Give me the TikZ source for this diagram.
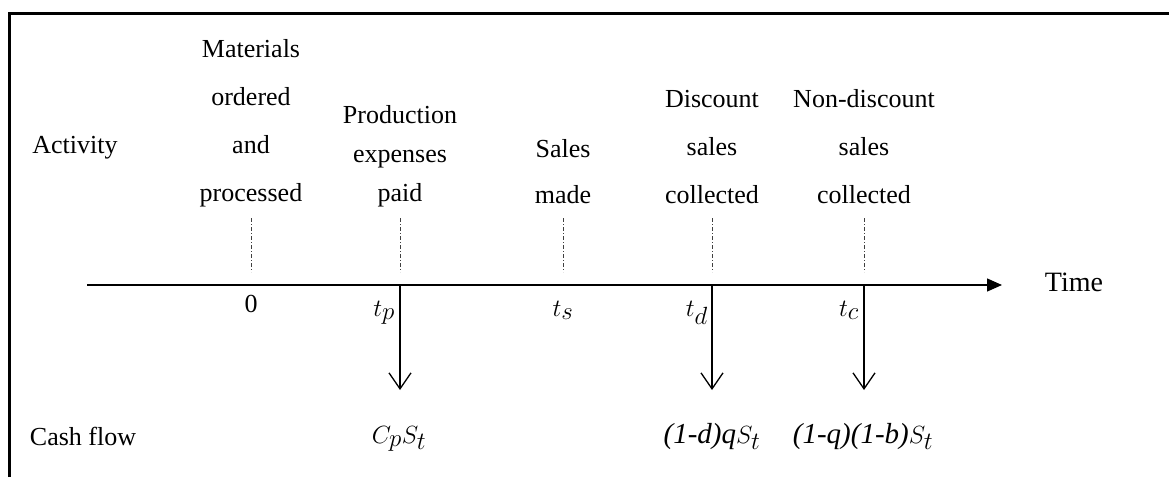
\documentclass[tikz,border=0pt]{standalone}
\usepackage{fontspec}
\setmainfont{Liberation Serif}
\usetikzlibrary{arrows.meta}
% italic text part of the cash flow amounts
\newcommand\cashfont{\fontsize{29}{34}\selectfont\itshape}
\begin{document}
\begin{tikzpicture}[x=1pt,y=-1pt,
  txt/.style={inner sep=0pt, anchor=base, align=center, font=\fontsize{26}{#1}\selectfont},
  txt/.default=30,
  mathlbl/.style={inner sep=0pt, font=\fontsize{34}{38}\selectfont},
  guide/.style={line width=0.8pt, black!75, dash pattern=on 4pt off 2pt on 1pt off 2pt},
  axisline/.style={line width=1.3pt, -{Triangle[length=15pt,width=13pt]}},
  flow/.style={line width=1.3pt, -{Straight Barb[length=16pt,width=22pt,line width=1.3pt]}},
  frame/.style={line width=3pt}]
\useasboundingbox (0,0) rectangle (1169,477);

% open frame: top and left rules only
\draw[frame] (9,477) -- (9,13) -- (1169,13);

% activity row
\node[txt] (act) at (75,153) {Activity};
\node[txt=47.7] (mat) at (251,201) {Materials\\ordered\\and\\processed};
\node[txt=39] (prod) at (400,201) {Production\\expenses\\paid};
\node[txt=46] (sale) at (563,203) {Sales\\made};
\node[txt=48] (disc) at (712,203) {Discount\\sales\\collected};
\node[txt=48] (ndisc) at (864,203) {Non-discount\\sales\\collected};

% time axis
\coordinate (ax0) at (87,285);
\coordinate (ax1) at (1002,285);
\draw[axisline] (ax0) -- (ax1);
\node[inner sep=0pt, anchor=base, font=\fontsize{28}{32}\selectfont] (time) at (1074,291) {Time};

% event points on the axis
\coordinate (p0) at (251,285);
\coordinate (pp) at (400,285);
\coordinate (ps) at (563,285);
\coordinate (pd) at (712,285);
\coordinate (pc) at (864,285);

% dash-dot guides from each activity down towards the axis
\foreach \c in {p0,pp,ps,pd,pc}
  \draw[guide] ([yshift=67pt]\c) -- ([yshift=13pt]\c);

% time labels
\node[txt] (l0) at (251,312) {0};
\node[mathlbl, anchor=base east] (lp) at (395,316) {$t_p$};
\node[mathlbl, anchor=base] (ls) at (563,316) {$t_s$};
\node[mathlbl, anchor=base east] (ld) at (708,316) {$t_d$};
\node[mathlbl, anchor=base east] (lc) at (859,316) {$t_c$};

% cash flow arrows
\coordinate (ep) at (400,390);
\coordinate (ed) at (712,390);
\coordinate (ec) at (864,390);
\draw[flow] (pp) -- (ep);
\draw[flow] (pd) -- (ed);
\draw[flow] (pc) -- (ec);

% cash flow row
\node[txt] (cf) at (83,445) {Cash flow};
\node[mathlbl, anchor=base] (cp) at (399,443) {$C_pS_t$};
\node[mathlbl, anchor=base] (cd) at (712,443) {{\cashfont (1-d)q}$S_t$};
\node[mathlbl, anchor=base] (cc) at (863,443) {{\cashfont (1-q)(1-b)}$S_t$};
\end{tikzpicture}
\end{document}
